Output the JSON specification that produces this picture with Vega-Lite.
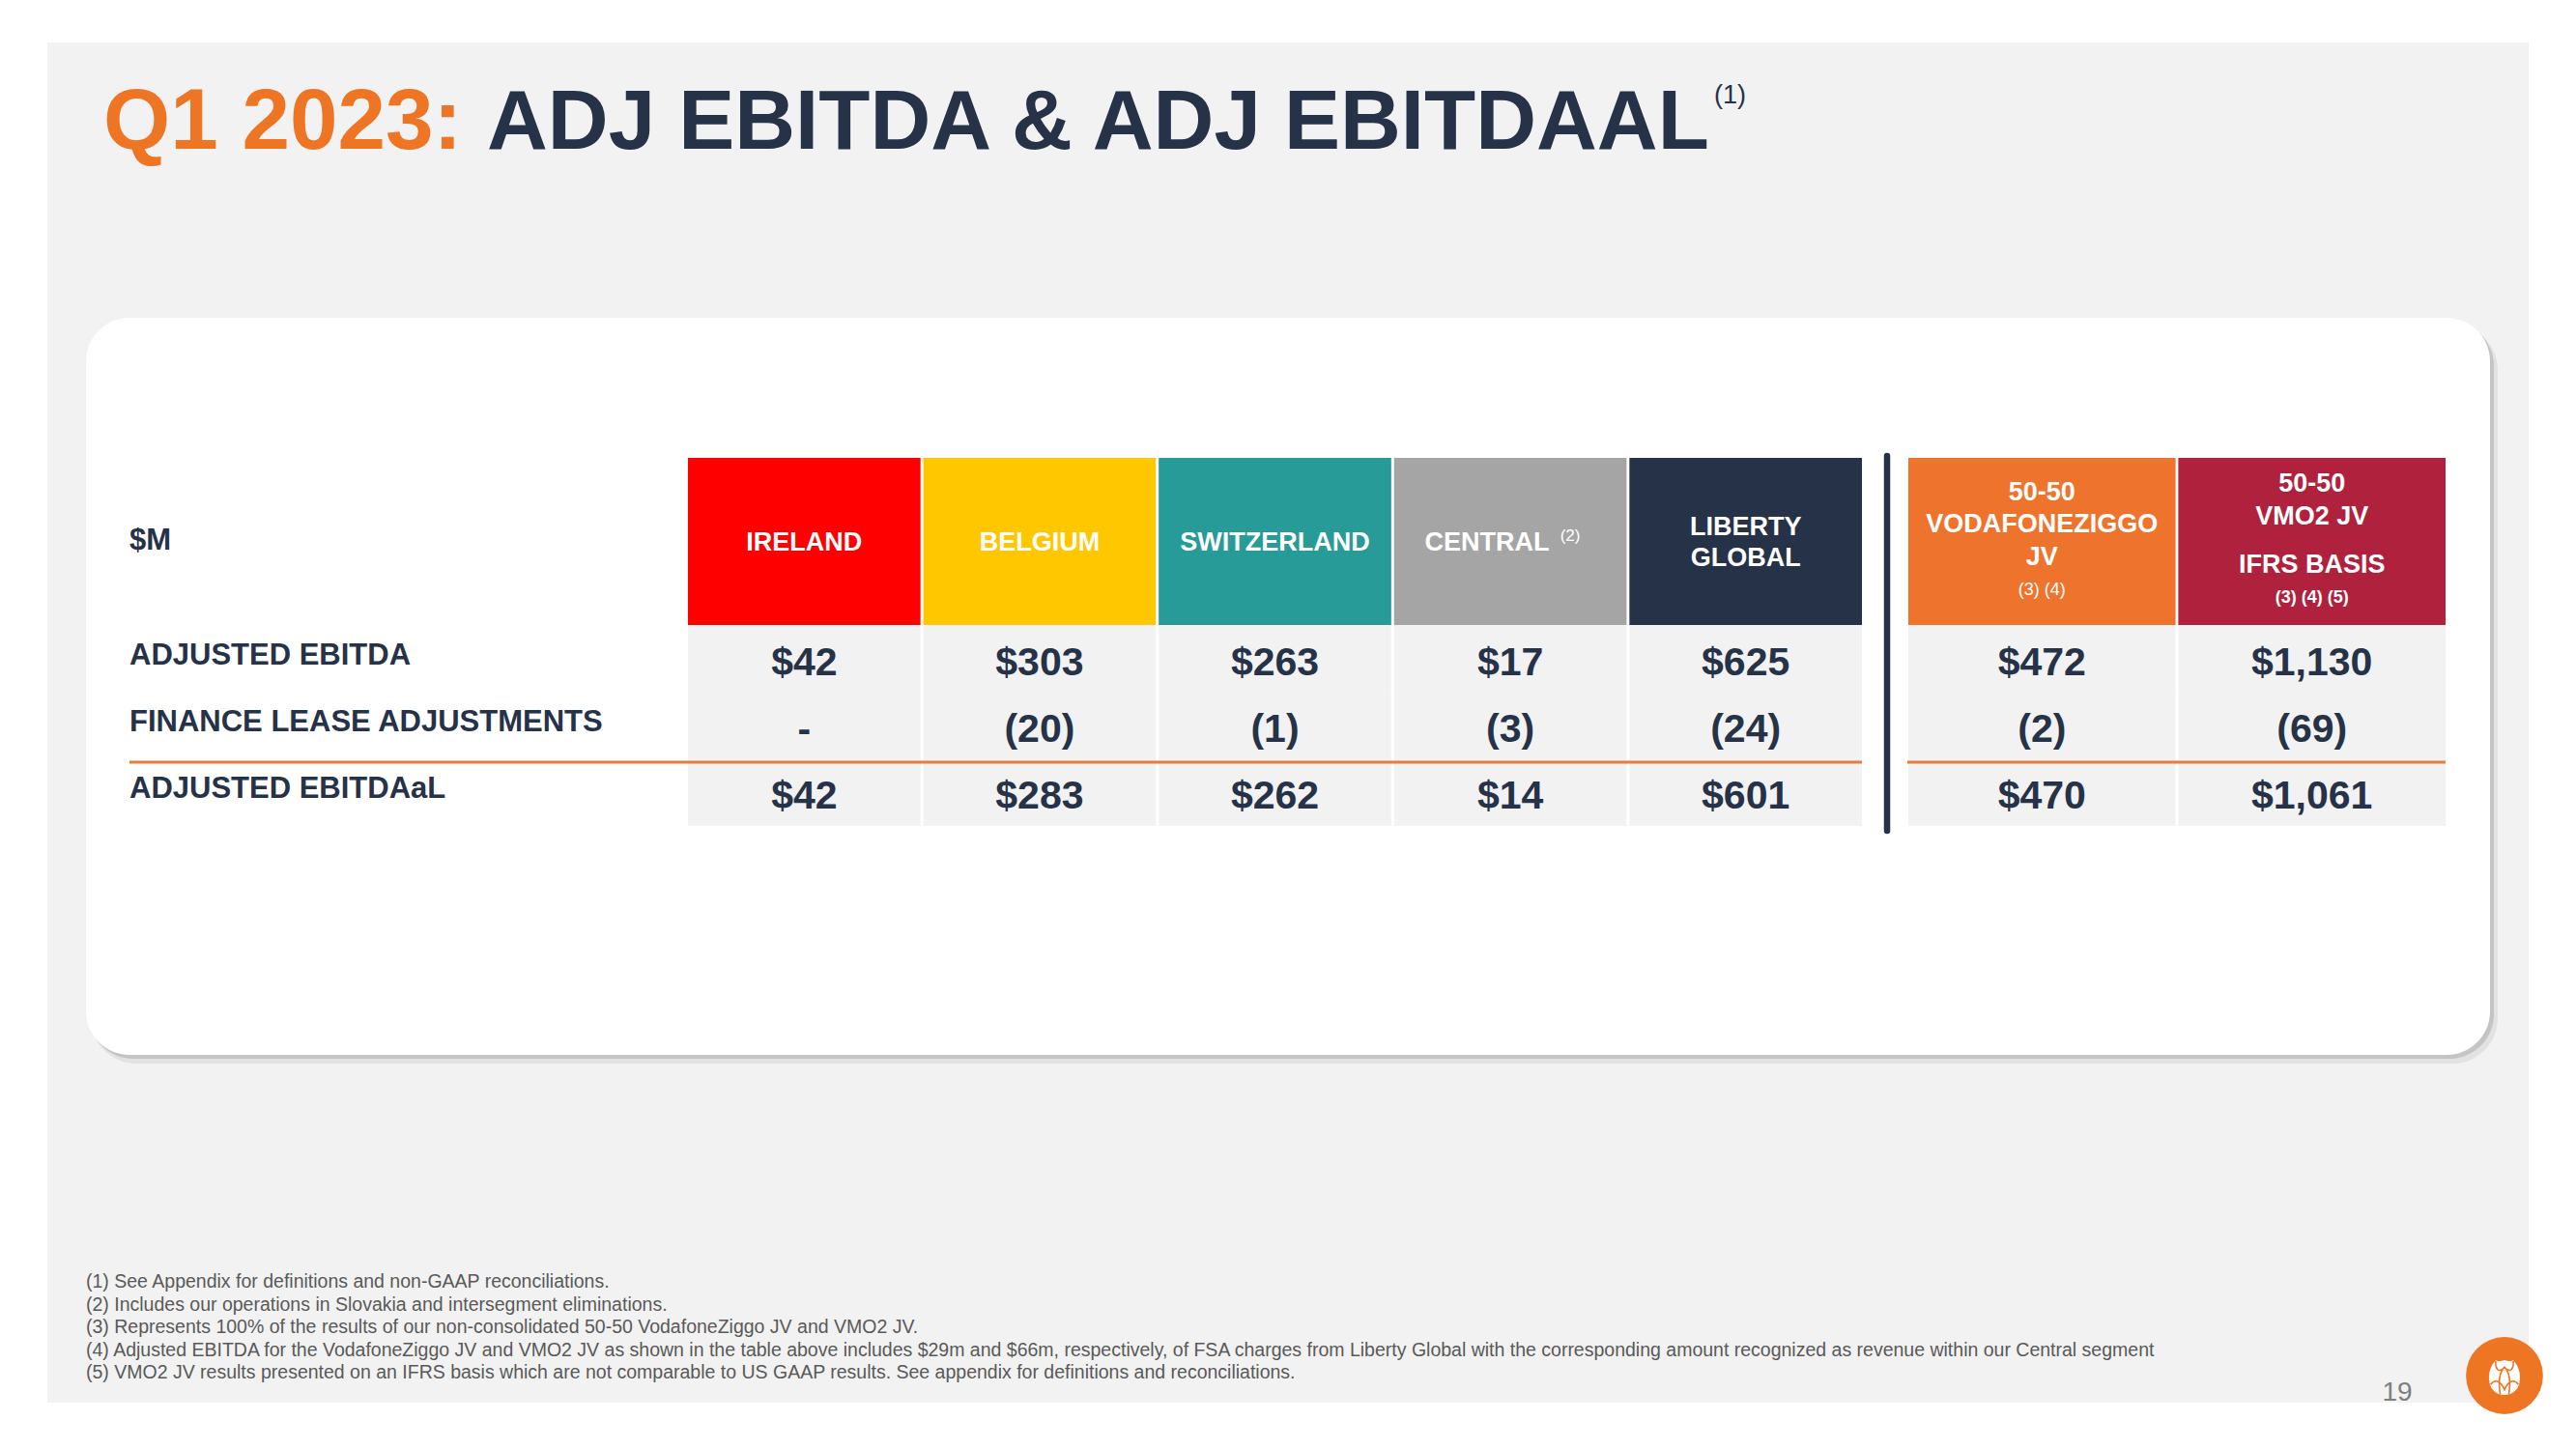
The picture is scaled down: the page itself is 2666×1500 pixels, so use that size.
{
  "$schema": "https://vega.github.io/schema/vega-lite/v6.json",
  "width": 2666,
  "height": 1500,
  "autosize": {"type": "none"},
  "padding": 0,
  "background": "#FFFFFF",
  "config": {
    "view": {"stroke": null},
    "mark": {"font": "Liberation Sans"},
    "text": {"font": "Liberation Sans"}
  },
  "datasets": {
    "columns": [
      {"col": "IRELAND", "head": "IRELAND"},
      {"col": "BELGIUM", "head": "BELGIUM"},
      {"col": "SWITZERLAND", "head": "SWITZERLAND"},
      {"col": "CENTRAL", "head": "CENTRAL", "ref": "(2)"},
      {"col": "LIBERTY GLOBAL", "head": ["LIBERTY", "GLOBAL"]},
      {"col": "VODAFONEZIGGO JV", "head": ["50-50", "VODAFONEZIGGO", "JV"], "ref": "(3) (4)"},
      {"col": "VMO2 JV", "head": ["50-50", "VMO2 JV"], "basis": "IFRS BASIS", "ref": "(3) (4) (5)"}
    ],
    "rows": [
      {"metric": "ADJUSTED EBITDA"},
      {"metric": "FINANCE LEASE ADJUSTMENTS"},
      {"metric": "ADJUSTED EBITDAaL"}
    ],
    "cells": [
      {"col": "IRELAND", "metric": "ADJUSTED EBITDA", "value": 42, "label": "$42"},
      {"col": "IRELAND", "metric": "FINANCE LEASE ADJUSTMENTS", "value": 0, "label": "-"},
      {"col": "IRELAND", "metric": "ADJUSTED EBITDAaL", "value": 42, "label": "$42"},
      {"col": "BELGIUM", "metric": "ADJUSTED EBITDA", "value": 303, "label": "$303"},
      {"col": "BELGIUM", "metric": "FINANCE LEASE ADJUSTMENTS", "value": -20, "label": "(20)"},
      {"col": "BELGIUM", "metric": "ADJUSTED EBITDAaL", "value": 283, "label": "$283"},
      {"col": "SWITZERLAND", "metric": "ADJUSTED EBITDA", "value": 263, "label": "$263"},
      {"col": "SWITZERLAND", "metric": "FINANCE LEASE ADJUSTMENTS", "value": -1, "label": "(1)"},
      {"col": "SWITZERLAND", "metric": "ADJUSTED EBITDAaL", "value": 262, "label": "$262"},
      {"col": "CENTRAL", "metric": "ADJUSTED EBITDA", "value": 17, "label": "$17"},
      {"col": "CENTRAL", "metric": "FINANCE LEASE ADJUSTMENTS", "value": -3, "label": "(3)"},
      {"col": "CENTRAL", "metric": "ADJUSTED EBITDAaL", "value": 14, "label": "$14"},
      {"col": "LIBERTY GLOBAL", "metric": "ADJUSTED EBITDA", "value": 625, "label": "$625"},
      {"col": "LIBERTY GLOBAL", "metric": "FINANCE LEASE ADJUSTMENTS", "value": -24, "label": "(24)"},
      {"col": "LIBERTY GLOBAL", "metric": "ADJUSTED EBITDAaL", "value": 601, "label": "$601"},
      {"col": "VODAFONEZIGGO JV", "metric": "ADJUSTED EBITDA", "value": 472, "label": "$472"},
      {"col": "VODAFONEZIGGO JV", "metric": "FINANCE LEASE ADJUSTMENTS", "value": -2, "label": "(2)"},
      {"col": "VODAFONEZIGGO JV", "metric": "ADJUSTED EBITDAaL", "value": 470, "label": "$470"},
      {"col": "VMO2 JV", "metric": "ADJUSTED EBITDA", "value": 1130, "label": "$1,130"},
      {"col": "VMO2 JV", "metric": "FINANCE LEASE ADJUSTMENTS", "value": -69, "label": "(69)"},
      {"col": "VMO2 JV", "metric": "ADJUSTED EBITDAaL", "value": 1061, "label": "$1,061"}
    ],
    "notes": [
      {"note": "(1) See Appendix for definitions and non-GAAP reconciliations."},
      {"note": "(2) Includes our operations in Slovakia and intersegment eliminations."},
      {"note": "(3) Represents 100% of the results of our non-consolidated 50-50 VodafoneZiggo JV and VMO2 JV."},
      {"note": "(4) Adjusted EBITDA for the VodafoneZiggo JV and VMO2 JV as shown in the table above includes $29m and $66m, respectively, of FSA charges from Liberty Global with the corresponding amount recognized as revenue within our Central segment"},
      {"note": "(5) VMO2 JV results presented on an IFRS basis which are not comparable to US GAAP results. See appendix for definitions and reconciliations."}
    ]
  },
  "layer": [
    {
      "data": {"values": [{}]},
      "layer": [
        {"mark": {"type": "rect", "fill": "#F2F2F2"},
         "encoding": {
           "x": {"datum": 49, "type": "quantitative", "scale": {"domain": [0, 2666], "range": [0, 2666], "nice": false, "zero": false}, "axis": null},
           "x2": {"datum": 2617},
           "y": {"datum": 44, "type": "quantitative", "scale": {"domain": [0, 1500], "range": [0, 1500], "nice": false, "zero": false}, "axis": null},
           "y2": {"datum": 1452}}},
        {"mark": {"type": "rect", "fill": "#E2E2E2", "cornerRadius": 47},
         "encoding": {"x": {"datum": 94, "type": "quantitative"}, "x2": {"datum": 2585}, "y": {"datum": 336, "type": "quantitative"}, "y2": {"datum": 1101}}},
        {"mark": {"type": "rect", "fill": "#C4C4C4", "cornerRadius": 46},
         "encoding": {"x": {"datum": 92, "type": "quantitative"}, "x2": {"datum": 2581}, "y": {"datum": 333, "type": "quantitative"}, "y2": {"datum": 1096}}},
        {"mark": {"type": "rect", "fill": "#FFFFFF", "cornerRadius": 45},
         "encoding": {"x": {"datum": 89, "type": "quantitative"}, "x2": {"datum": 2577}, "y": {"datum": 329, "type": "quantitative"}, "y2": {"datum": 1092}}},
        {"mark": {"type": "text", "text": "Q1 2023:", "align": "left", "baseline": "alphabetic", "fontSize": 89, "fontWeight": "bold", "fill": "#EE7524"},
         "encoding": {"x": {"datum": 107, "type": "quantitative"}, "y": {"datum": 154, "type": "quantitative"}}},
        {"mark": {"type": "text", "text": "ADJ EBITDA & ADJ EBITDAAL", "align": "left", "baseline": "alphabetic", "fontSize": 87, "fontWeight": "bold", "fill": "#253248"},
         "encoding": {"x": {"datum": 504, "type": "quantitative"}, "y": {"datum": 154, "type": "quantitative"}}},
        {"mark": {"type": "text", "text": "(1)", "align": "left", "baseline": "middle", "fontSize": 27, "fill": "#253248"},
         "encoding": {"x": {"datum": 1774, "type": "quantitative"}, "y": {"datum": 99, "type": "quantitative"}}},
        {"mark": {"type": "text", "text": "$M", "align": "left", "baseline": "middle", "fontSize": 31, "fontWeight": "bold", "fill": "#253248"},
         "encoding": {"x": {"datum": 134, "type": "quantitative"}, "y": {"datum": 560, "type": "quantitative"}}},
        {"mark": {"type": "text", "text": "19", "align": "center", "baseline": "alphabetic", "fontSize": 28, "fill": "#7F7F7F"},
         "encoding": {"x": {"datum": 2481, "type": "quantitative"}, "y": {"datum": 1450, "type": "quantitative"}}},
        {"mark": {"type": "point", "shape": "circle", "filled": true, "opacity": 1, "size": 6362, "color": "#EE7623", "strokeWidth": 0},
         "encoding": {"x": {"datum": 2592, "type": "quantitative"}, "y": {"datum": 1424, "type": "quantitative"}}},
        {"mark": {"type": "point", "shape": "M -0.85 0.35 C -1 -0.3 -0.72 -0.78 -0.48 -1 C -0.35 -0.88 -0.2 -0.95 0 -1 C 0.2 -0.95 0.35 -0.88 0.48 -1 C 0.72 -0.78 1 -0.3 0.85 0.35 C 0.75 0.8 0.35 1 0 1 C -0.35 1 -0.75 0.8 -0.85 0.35 Z", "filled": true, "opacity": 1, "size": 1300, "color": "#FFFFFF", "strokeWidth": 0},
         "encoding": {"x": {"datum": 2592, "type": "quantitative"}, "y": {"datum": 1426, "type": "quantitative"}}},
        {"mark": {"type": "point", "shape": "M 0 -0.6 C -0.3 -0.3 -0.35 0.3 -0.25 0.95 M 0 -0.6 C 0.3 -0.3 0.35 0.3 0.25 0.95 M -0.8 0.4 C -0.55 0.05 -0.2 0.2 0 0.7 C 0.2 0.2 0.55 0.05 0.8 0.4 M -0.5 -0.95 C -0.55 -0.5 -0.3 -0.2 0 -0.6 C 0.3 -0.2 0.55 -0.5 0.5 -0.95", "filled": false, "opacity": 1, "size": 1300, "color": "#EE7623", "strokeWidth": 1.6},
         "encoding": {"x": {"datum": 2592, "type": "quantitative"}, "y": {"datum": 1426, "type": "quantitative"}}}
      ]
    },
    {
      "data": {"name": "columns"},
      "transform": [{"filter": {"field": "col", "oneOf": ["IRELAND", "BELGIUM", "SWITZERLAND", "CENTRAL", "LIBERTY GLOBAL"]}}],
      "layer": [
        {"mark": {"type": "rect"},
         "encoding": {
           "x": {"field": "col", "type": "nominal", "scale": {"domain": ["IRELAND", "BELGIUM", "SWITZERLAND", "CENTRAL", "LIBERTY GLOBAL"], "range": [712, 1927], "paddingInner": 0.012, "paddingOuter": 0}, "axis": null},
           "y": {"datum": 474, "type": "quantitative", "scale": {"domain": [0, 1500], "range": [0, 1500], "nice": false, "zero": false}, "axis": null},
           "y2": {"datum": 647},
           "color": {"field": "col", "type": "nominal", "scale": {"domain": ["IRELAND", "BELGIUM", "SWITZERLAND", "CENTRAL", "LIBERTY GLOBAL", "VODAFONEZIGGO JV", "VMO2 JV"], "range": ["#FF0000", "#FFC700", "#269B98", "#A5A5A5", "#253248", "#EE742D", "#B0213D"]}, "legend": null}}},
        {"transform": [{"filter": "datum.col !== 'CENTRAL' && datum.col !== 'LIBERTY GLOBAL'"}],
         "mark": {"type": "text", "fill": "#FFFFFF", "fontWeight": "bold", "fontSize": 27, "baseline": "middle", "align": "center"},
         "encoding": {"x": {"field": "col", "type": "nominal"}, "y": {"datum": 562, "type": "quantitative"}, "text": {"field": "head", "type": "nominal"}}},
        {"transform": [{"filter": "datum.col === 'LIBERTY GLOBAL'"}],
         "mark": {"type": "text", "fill": "#FFFFFF", "fontWeight": "bold", "fontSize": 27, "lineHeight": 32, "baseline": "middle", "align": "center"},
         "encoding": {"x": {"field": "col", "type": "nominal"}, "y": {"datum": 545.5, "type": "quantitative"}, "text": {"field": "head", "type": "nominal"}}},
        {"transform": [{"filter": "datum.col === 'CENTRAL'"}],
         "mark": {"type": "text", "fill": "#FFFFFF", "fontWeight": "bold", "fontSize": 27, "baseline": "middle", "align": "center", "dx": -24},
         "encoding": {"x": {"field": "col", "type": "nominal"}, "y": {"datum": 562, "type": "quantitative"}, "text": {"field": "head", "type": "nominal"}}},
        {"transform": [{"filter": "datum.col === 'CENTRAL'"}],
         "mark": {"type": "text", "fill": "#FFFFFF", "fontSize": 17, "baseline": "middle", "align": "center", "dx": 62},
         "encoding": {"x": {"field": "col", "type": "nominal"}, "y": {"datum": 555, "type": "quantitative"}, "text": {"field": "ref", "type": "nominal"}}}
      ]
    },
    {
      "data": {"name": "cells"},
      "transform": [{"filter": {"field": "col", "oneOf": ["IRELAND", "BELGIUM", "SWITZERLAND", "CENTRAL", "LIBERTY GLOBAL"]}}],
      "layer": [
        {"mark": {"type": "rect", "fill": "#F2F2F2"},
         "encoding": {
           "x": {"field": "col", "type": "nominal", "scale": {"domain": ["IRELAND", "BELGIUM", "SWITZERLAND", "CENTRAL", "LIBERTY GLOBAL"], "range": [712, 1927], "paddingInner": 0.012, "paddingOuter": 0}, "axis": null},
           "y": {"field": "metric", "type": "nominal", "scale": {"domain": ["ADJUSTED EBITDA", "FINANCE LEASE ADJUSTMENTS", "ADJUSTED EBITDAaL"], "range": [647, 855], "paddingInner": 0, "paddingOuter": 0}, "axis": null}}},
        {"mark": {"type": "text", "fill": "#253248", "fontWeight": "bold", "fontSize": 41, "baseline": "middle", "align": "center", "dy": 5},
         "encoding": {"x": {"field": "col", "type": "nominal"}, "y": {"field": "metric", "type": "nominal"}, "text": {"field": "label", "type": "nominal"}}}
      ]
    },
    {
      "data": {"name": "columns"},
      "transform": [{"filter": {"field": "col", "oneOf": ["VODAFONEZIGGO JV", "VMO2 JV"]}}],
      "layer": [
        {"mark": {"type": "rect"},
         "encoding": {
           "x": {"field": "col", "type": "nominal", "scale": {"domain": ["VODAFONEZIGGO JV", "VMO2 JV"], "range": [1975, 2531], "paddingInner": 0.01, "paddingOuter": 0}, "axis": null},
           "y": {"datum": 474, "type": "quantitative", "scale": {"domain": [0, 1500], "range": [0, 1500], "nice": false, "zero": false}, "axis": null},
           "y2": {"datum": 647},
           "color": {"field": "col", "type": "nominal", "scale": {"domain": ["IRELAND", "BELGIUM", "SWITZERLAND", "CENTRAL", "LIBERTY GLOBAL", "VODAFONEZIGGO JV", "VMO2 JV"], "range": ["#FF0000", "#FFC700", "#269B98", "#A5A5A5", "#253248", "#EE742D", "#B0213D"]}, "legend": null}}},
        {"transform": [{"filter": "datum.col === 'VODAFONEZIGGO JV'"}],
         "mark": {"type": "text", "fill": "#FFFFFF", "fontWeight": "bold", "fontSize": 27, "lineHeight": 33.5, "baseline": "middle", "align": "center"},
         "encoding": {"x": {"field": "col", "type": "nominal"}, "y": {"datum": 509.5, "type": "quantitative"}, "text": {"field": "head", "type": "nominal"}}},
        {"transform": [{"filter": "datum.col === 'VODAFONEZIGGO JV'"}],
         "mark": {"type": "text", "fill": "#FFFFFF", "fontSize": 18, "baseline": "middle", "align": "center"},
         "encoding": {"x": {"field": "col", "type": "nominal"}, "y": {"datum": 611, "type": "quantitative"}, "text": {"field": "ref", "type": "nominal"}}},
        {"transform": [{"filter": "datum.col === 'VMO2 JV'"}],
         "mark": {"type": "text", "fill": "#FFFFFF", "fontWeight": "bold", "fontSize": 27, "lineHeight": 34, "baseline": "middle", "align": "center"},
         "encoding": {"x": {"field": "col", "type": "nominal"}, "y": {"datum": 500.5, "type": "quantitative"}, "text": {"field": "head", "type": "nominal"}}},
        {"transform": [{"filter": "datum.col === 'VMO2 JV'"}],
         "mark": {"type": "text", "fill": "#FFFFFF", "fontWeight": "bold", "fontSize": 27, "baseline": "middle", "align": "center"},
         "encoding": {"x": {"field": "col", "type": "nominal"}, "y": {"datum": 584.5, "type": "quantitative"}, "text": {"field": "basis", "type": "nominal"}}},
        {"transform": [{"filter": "datum.col === 'VMO2 JV'"}],
         "mark": {"type": "text", "fill": "#FFFFFF", "fontWeight": "bold", "fontSize": 18, "baseline": "middle", "align": "center"},
         "encoding": {"x": {"field": "col", "type": "nominal"}, "y": {"datum": 619, "type": "quantitative"}, "text": {"field": "ref", "type": "nominal"}}}
      ]
    },
    {
      "data": {"name": "cells"},
      "transform": [{"filter": {"field": "col", "oneOf": ["VODAFONEZIGGO JV", "VMO2 JV"]}}],
      "layer": [
        {"mark": {"type": "rect", "fill": "#F2F2F2"},
         "encoding": {
           "x": {"field": "col", "type": "nominal", "scale": {"domain": ["VODAFONEZIGGO JV", "VMO2 JV"], "range": [1975, 2531], "paddingInner": 0.01, "paddingOuter": 0}, "axis": null},
           "y": {"field": "metric", "type": "nominal", "scale": {"domain": ["ADJUSTED EBITDA", "FINANCE LEASE ADJUSTMENTS", "ADJUSTED EBITDAaL"], "range": [647, 855], "paddingInner": 0, "paddingOuter": 0}, "axis": null}}},
        {"mark": {"type": "text", "fill": "#253248", "fontWeight": "bold", "fontSize": 41, "baseline": "middle", "align": "center", "dy": 5},
         "encoding": {"x": {"field": "col", "type": "nominal"}, "y": {"field": "metric", "type": "nominal"}, "text": {"field": "label", "type": "nominal"}}}
      ]
    },
    {
      "data": {"name": "rows"},
      "mark": {"type": "text", "align": "left", "baseline": "middle", "fontWeight": "bold", "fontSize": 31, "fill": "#253248", "dy": -3},
      "encoding": {
        "x": {"datum": 134, "type": "quantitative", "scale": {"domain": [0, 2666], "range": [0, 2666], "nice": false, "zero": false}, "axis": null},
        "y": {"field": "metric", "type": "nominal", "scale": {"domain": ["ADJUSTED EBITDA", "FINANCE LEASE ADJUSTMENTS", "ADJUSTED EBITDAaL"], "range": [647, 855], "paddingInner": 0, "paddingOuter": 0}, "axis": null},
        "text": {"field": "metric", "type": "nominal"}
      }
    },
    {
      "data": {"name": "notes"},
      "mark": {"type": "text", "align": "left", "baseline": "middle", "fontSize": 19.5, "fill": "#595959"},
      "encoding": {
        "x": {"datum": 89, "type": "quantitative", "scale": {"domain": [0, 2666], "range": [0, 2666], "nice": false, "zero": false}, "axis": null},
        "y": {"field": "note", "type": "nominal", "scale": {"type": "point", "range": [1327, 1421], "padding": 0}, "axis": null},
        "text": {"field": "note", "type": "nominal"}
      }
    },
    {
      "data": {"values": [{}]},
      "layer": [
        {"mark": {"type": "rule", "stroke": "#E97B3C", "strokeWidth": 3},
         "encoding": {
           "x": {"datum": 134, "type": "quantitative", "scale": {"domain": [0, 2666], "range": [0, 2666], "nice": false, "zero": false}, "axis": null},
           "x2": {"datum": 1927},
           "y": {"datum": 789, "type": "quantitative", "scale": {"domain": [0, 1500], "range": [0, 1500], "nice": false, "zero": false}, "axis": null}}},
        {"mark": {"type": "rule", "stroke": "#E97B3C", "strokeWidth": 3},
         "encoding": {"x": {"datum": 1974, "type": "quantitative"}, "x2": {"datum": 2531}, "y": {"datum": 789, "type": "quantitative"}}},
        {"mark": {"type": "rule", "stroke": "#253248", "strokeWidth": 6.5, "strokeCap": "round"},
         "encoding": {"x": {"datum": 1953, "type": "quantitative"}, "y": {"datum": 472, "type": "quantitative"}, "y2": {"datum": 860}}}
      ]
    }
  ],
  "resolve": {"scale": {"x": "independent", "y": "independent", "color": "independent"}}
}
